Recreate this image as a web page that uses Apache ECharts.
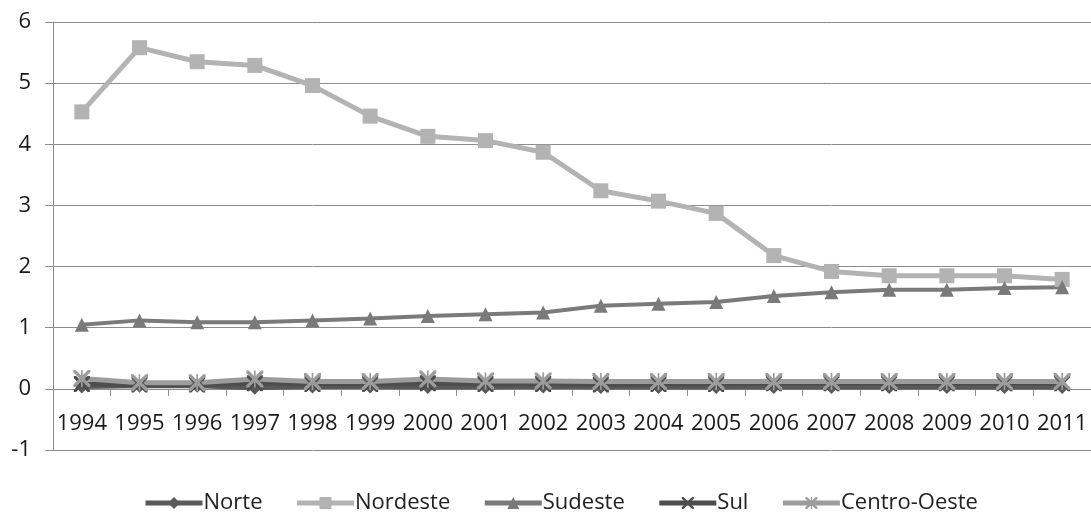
<!DOCTYPE html>
<html>
<head>
<meta charset="utf-8">
<script src="https://cdn.jsdelivr.net/npm/echarts@6/dist/echarts.min.js"></script>
<style>
  html, body { margin: 0; padding: 0; background: #fff; }
  #chart { width: 1091px; height: 516px; }
</style>
</head>
<body>
<div id="chart"></div>
<script>
// Anos
const years = ['1994','1995','1996','1997','1998','1999','2000','2001','2002',
               '2003','2004','2005','2006','2007','2008','2009','2010','2011'];

// Valores por região
const norte       = [0.04,0.05,0.05,0.02,0.04,0.04,0.03,0.03,0.04,0.03,0.03,0.03,0.03,0.03,0.03,0.03,0.03,0.03];
const nordeste    = [4.53,5.58,5.35,5.29,4.96,4.46,4.13,4.06,3.87,3.24,3.07,2.87,2.18,1.92,1.85,1.85,1.85,1.79];
const sudeste     = [1.05,1.12,1.09,1.09,1.12,1.15,1.19,1.22,1.25,1.36,1.39,1.42,1.52,1.58,1.62,1.62,1.65,1.66];
const sul         = [0.08,0.07,0.07,0.09,0.08,0.08,0.09,0.08,0.08,0.07,0.08,0.08,0.09,0.09,0.09,0.09,0.09,0.09];
const centroOeste = [0.17,0.10,0.10,0.16,0.12,0.12,0.16,0.13,0.13,0.12,0.12,0.12,0.12,0.12,0.12,0.12,0.12,0.12];

// Escala do eixo vertical
const yMin = -1, yMax = 6, yStep = 1;

// Marcadores em forma de "x" e de asterisco
const xMark = 'path://M0,0L1.4,0L5,3.6L8.6,0L10,0L10,1.4L6.4,5L10,8.6L10,10L8.6,10L5,6.4L1.4,10L0,10L0,8.6L3.6,5L0,1.4Z';
const starMark = xMark + 'M4.5,0L5.5,0L5.5,10L4.5,10Z';

const font = '"Open Sans", Lato, sans-serif';

const gridTop = 22, gridBottom = 66, chartHeight = 516;
const plotHeight = chartHeight - gridTop - gridBottom;
// o eixo das categorias cruza o eixo vertical no valor zero
const zeroOffset = -plotHeight * (0 - yMin) / (yMax - yMin);

function line(name, data, color, symbol, size, width) {
  return {
    name, type: 'line', data,
    symbol, symbolSize: size,
    showAllSymbol: true,
    lineStyle: { color, width },
    itemStyle: { color },
    emphasis: { disabled: true },
    animation: false
  };
}

const chart = echarts.init(document.getElementById('chart'));
chart.setOption({
  backgroundColor: '#fff',
  grid: { left: 53, top: gridTop, width: 1040, bottom: gridBottom, containLabel: false },
  legend: {
    bottom: -3,
    left: 138,
    itemWidth: 57,
    itemHeight: 15,
    itemGap: 32,
    lineStyle: { width: 5 },
    textStyle: { fontFamily: font, fontSize: 22, color: '#222', padding: [0, 0, 0, -4] },
    data: ['Norte', 'Nordeste', 'Sudeste', 'Sul', 'Centro-Oeste']
  },
  xAxis: {
    type: 'category',
    data: years,
    boundaryGap: true,
    offset: zeroOffset,
    axisLine: { onZero: false, lineStyle: { color: '#8c8c8c', width: 1 } },
    axisTick: { show: true, alignWithLabel: false, length: 7, lineStyle: { color: '#8c8c8c' } },
    axisLabel: { fontFamily: font, fontSize: 22, color: '#1a1a1a', margin: 24, interval: 0 },
    splitLine: { show: false }
  },
  yAxis: {
    type: 'value',
    min: yMin, max: yMax, interval: yStep,
    axisLine: { show: true, lineStyle: { color: '#8c8c8c', width: 1 } },
    axisTick: { show: true, length: 8, lineStyle: { color: '#8c8c8c' } },
    axisLabel: { fontFamily: font, fontSize: 22, color: '#1a1a1a', margin: 22 },
    splitLine: { show: true, lineStyle: { color: '#8c8c8c', width: 1 } }
  },
  series: [
    line('Norte', norte, '#595959', 'diamond', 14, 5),
    line('Nordeste', nordeste, '#b3b3b3', 'rect', 15, 5),
    line('Sudeste', sudeste, '#7a7a7a', 'triangle', 14, 4),
    line('Sul', sul, '#4d4d4d', xMark, 16, 5),
    line('Centro-Oeste', centroOeste, '#9c9c9c', starMark, 17, 5)
  ]
});
</script>
</body>
</html>
